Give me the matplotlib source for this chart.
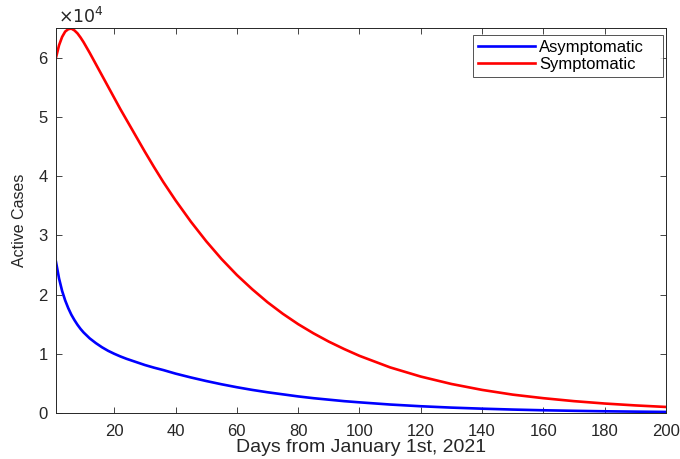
import matplotlib
matplotlib.use("Agg")
import matplotlib.pyplot as plt
import numpy as np

days = [1, 2, 3, 4, 5, 6, 7, 8, 9, 10, 11, 12, 14, 16, 18, 20, 22, 24, 26, 28, 30,
        33, 36, 40, 45, 50, 55, 60, 65, 70, 75, 80, 85, 90, 95, 100,
        110, 120, 130, 140, 150, 160, 170, 180, 190, 200]
symptomatic = [6.00, 6.21, 6.35, 6.44, 6.48, 6.49, 6.46, 6.41, 6.34, 6.26, 6.17, 6.08,
               5.89, 5.70, 5.51, 5.32, 5.13, 4.95, 4.77, 4.59, 4.41,
               4.15, 3.90, 3.59, 3.23, 2.90, 2.60, 2.33, 2.09, 1.87, 1.675, 1.50,
               1.345, 1.205, 1.08, 0.965,
               0.77, 0.615, 0.49, 0.39, 0.31, 0.25, 0.20, 0.16, 0.128, 0.102]
asymptomatic = [2.55, 2.27, 2.06, 1.90, 1.77, 1.66, 1.57, 1.49, 1.42, 1.36, 1.31, 1.26,
                1.18, 1.11, 1.05, 1.00, 0.955, 0.915, 0.88, 0.845, 0.81,
                0.765, 0.725, 0.665, 0.60, 0.54, 0.485, 0.435, 0.39, 0.35, 0.315, 0.28,
                0.25, 0.225, 0.20, 0.18,
                0.143, 0.114, 0.091, 0.073, 0.058, 0.046, 0.037, 0.029, 0.023, 0.018]
scale = 1e4
xticks = [20, 40, 60, 80, 100, 120, 140, 160, 180, 200]
yticks = [0, 1, 2, 3, 4, 5, 6]

plt.rcParams['font.family'] = ['Liberation Sans', 'DejaVu Sans']
gray = (0.15, 0.15, 0.15)

fig = plt.figure(figsize=(6.8, 4.59), dpi=100)
ax = fig.add_axes([56/680, 1 - 413/459, 610/680, 385/459])

ax.plot(days, np.array(asymptomatic) * scale, color='#0000ff', lw=1.9, label='Asymptomatic')
ax.plot(days, np.array(symptomatic) * scale, color='#ff0000', lw=1.9, label='Symptomatic')

ax.set_xlim(1, 200)
ax.set_ylim(0, 6.5e4)
ax.set_xticks(xticks)
ax.set_yticks([v * scale for v in yticks])
ax.set_yticklabels([str(v) for v in yticks])
ax.tick_params(direction='in', top=True, right=True, length=4, width=0.6,
               colors=gray, labelsize=12)
ax.tick_params(axis='x', pad=8)
ax.tick_params(axis='y', pad=6)
for s in ax.spines.values():
    s.set_color(gray)
    s.set_linewidth(0.7)

ax.set_xlabel('Days from January 1st, 2021', fontsize=14, color=gray, labelpad=0)
ax.set_ylabel('Active Cases', fontsize=11.5, color=gray, labelpad=8)
ax.text(0.003, 1.004, r'$\times 10^4$', transform=ax.transAxes, fontsize=12.5,
        color=gray, ha='left', va='bottom')

x0 = (473 - 56) / 610
w = 190 / 610
top = (413 - 35) / 385
leg = ax.legend(loc='upper left', bbox_to_anchor=(x0, 0, w, top), mode='expand',
                fontsize=12, frameon=True, fancybox=False,
                borderpad=0.3, handlelength=3.4, handletextpad=0.25, labelspacing=0.1,
                borderaxespad=0)
leg.get_frame().set_edgecolor(gray)
leg.get_frame().set_linewidth(0.7)
for t in leg.get_texts():
    t.set_color('black')

fig.savefig('out.png', dpi=100)
